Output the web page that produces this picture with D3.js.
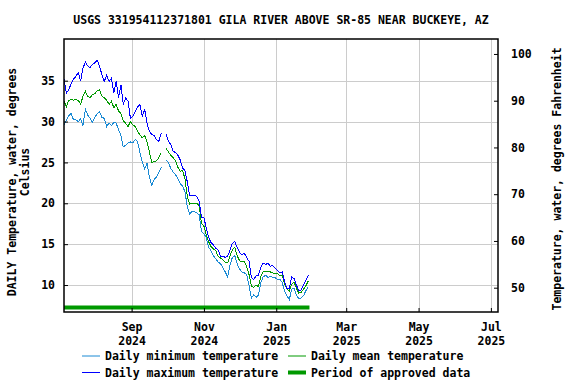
<!DOCTYPE html>
<html lang="en">
<head>
    <meta charset="UTF-8">
    <title>Gila River water temperature</title>
    <script src="https://d3js.org/d3.v7.min.js"></script>
    <style>
    body { margin: 0; background: #fff; }
    text { font-family: "DejaVu Sans Mono", monospace; font-weight: bold; font-size: 11.5px; fill: #000; }
    </style>
</head>
<body>
    <div id="chart"></div>

    <script>
        // daily values, one value every 2 days from startDate
        var startDate = "2024-07-06";
        var stepDays = 2;

        var maxTemp = [35.2, 33.5, 33.9, 34.6, 35.2, 35.5, 36.0, 35.0, 36.5, 37.3,
            36.8, 36.6, 37.0, 37.2, 37.5, 36.8, 35.7, 34.9, 35.7, 34.9,
            35.3, 33.5, 34.9, 32.9, 34.5, 32.1, 32.9, 32.5, 30.4, 30.6,
            31.2, 31.8, 32.1, 30.6, 31.5, 29.8, 28.8, 28.4, 28.3, 27.8,
            27.6, 28.6, null, 28.5, 27.6, 27.2, 26.4, 26.2, 25.9, 25.3,
            24.3, 24.0, 22.6, 20.9, 20.9, 21.0, 20.8, 20.2, 18.3, 18.2,
            17.0, 15.8, 15.2, 14.9, 14.5, 14.3, 13.5, 13.5, 13.4, 13.5,
            14.3, 15.1, 15.3, 14.6, 14.0, 13.7, 13.9, 13.4, 12.9, 10.9,
            10.7, 11.1, 11.2, 12.2, 12.7, 12.5, 12.7, 12.3, 12.4, 12.1,
            11.8, 11.5, 11.6, 10.4, 9.6, 9.6, 11.0, 10.8, 10.0, 9.3,
            9.4, 10.0, 10.6, 11.2];

        var meanTemp = [32.5, 31.8, 32.6, 32.7, 32.6, 32.7, 32.6, 32.1, 33.1, 33.7,
            33.1, 32.9, 33.3, 33.4, 33.8, 33.9, 33.1, 32.9, 32.6, 32.1,
            32.5, 31.7, 32.1, 31.3, 31.0, 30.1, 29.8, 29.4, 30.0, 29.6,
            29.4, 28.8, 28.4, 28.0, 28.3, 27.5, 26.3, 25.0, 25.1, 25.2,
            25.6, 26.2, null, 26.7, 26.3, 25.9, 25.6, 25.2, 24.4, 23.9,
            24.0, 23.0, 20.8, 19.9, 20.0, 20.0, 20.0, 19.7, 17.5, 17.2,
            16.1, 15.3, 14.7, 14.4, 14.2, 13.5, 13.3, 13.1, 12.8, 12.7,
            13.6, 14.3, 14.6, 13.6, 13.0, 12.8, 12.9, 12.3, 11.3, 9.9,
            9.7, 10.0, 9.8, 11.1, 11.6, 11.7, 11.7, 11.6, 11.5, 11.4,
            11.4, 11.1, 11.2, 10.1, 9.5, 9.2, 10.1, 10.4, 9.6, 9.0,
            9.1, 9.5, 9.9, 10.5];

        var minTemp = [29.6, 30.2, 30.7, 31.0, 30.2, 30.2, 30.0, 30.3, 29.5, 31.5,
            30.8, 30.4, 29.9, 30.5, 31.0, 31.2, 30.5, 30.4, 29.4, 29.8,
            29.5, 29.9, 29.8, 29.0, 28.3, 26.9, 27.1, 27.4, 27.5, 27.4,
            27.8, 27.6, 26.2, 25.1, 24.2, 24.9, 23.2, 22.2, 22.9, 23.2,
            23.8, 24.4, null, 25.3, 25.0, 24.3, 23.8, 23.5, 23.0, 22.4,
            22.1, 21.4, 19.6, 18.7, 19.0, 19.0, 18.8, 18.6, 16.5, 16.3,
            15.8, 14.6, 14.2, 13.6, 13.2, 12.8, 12.6, 12.1, 11.6, 11.0,
            12.4, 13.4, 13.6, 12.6, 12.0, 11.6, 11.5, 11.3, 10.0, 8.4,
            8.8, 8.5, 8.8, 10.3, 11.0, 11.2, 10.9, 11.1, 10.9, 10.9,
            10.7, 10.7, 10.3, 9.3, 8.7, 8.2, 9.5, 9.6, 8.8, 8.3,
            8.4, 8.7, 9.3, 9.8];

        var approvedPeriod = ["2024-07-06", "2025-01-29"];

        var xTicks = ["2024-09-01", "2024-11-01", "2025-01-01", "2025-03-01", "2025-05-01", "2025-07-01"];
        var celsiusTicks = [10, 15, 20, 25, 30, 35];
        var fahrenheitTicks = [50, 60, 70, 80, 90, 100];

        var title = "USGS 331954112371801 GILA RIVER ABOVE SR-85 NEAR BUCKEYE, AZ";

        // plot box
        var W = 576, H = 384;
        var box = {left: 64, right: 498, top: 39, bottom: 312};

        var parse = d3.timeParse("%Y-%m-%d");
        var t0 = parse(startDate);
        function rows(values) {
            return values.map(function (v, i) {
                return { date: d3.timeDay.offset(t0, i * stepDays), v: v };
            });
        }

        var svg = d3.select("#chart")
          .append("svg")
            .attr("width", W)
            .attr("height", H);

        var x = d3.scaleTime()
            .domain([parse("2024-07-06"), parse("2025-07-07")])
            .range([box.left, box.right]);

        var y = d3.scaleLinear()
            .domain([6.7, 40.1])
            .range([box.bottom, box.top]);

        var yF = d3.scaleLinear()
            .domain([44.8, 103.2])
            .range([box.bottom, box.top]);

        // grid
        svg.append("g")
          .selectAll("line")
          .data(celsiusTicks)
          .enter().append("line")
            .attr("x1", box.left).attr("x2", box.right)
            .attr("y1", function (d) { return Math.round(y(d)) + 0.5; })
            .attr("y2", function (d) { return Math.round(y(d)) + 0.5; })
            .attr("stroke", "#cccccc");

        svg.append("g")
          .selectAll("line")
          .data(xTicks)
          .enter().append("line")
            .attr("x1", function (d) { return Math.round(x(parse(d))) + 0.5; })
            .attr("x2", function (d) { return Math.round(x(parse(d))) + 0.5; })
            .attr("y1", box.top).attr("y2", box.bottom)
            .attr("stroke", "#cccccc");

        // series
        var line = d3.line()
            .defined(function (d) { return d.v != null; })
            .x(function (d) { return x(d.date); })
            .y(function (d) { return y(d.v); });

        var series = [
            { values: minTemp, color: "#1a8ad4" },
            { values: meanTemp, color: "#009900" },
            { values: maxTemp, color: "#0000ff" }
        ];

        // crisp edges to get the stepped, unsmoothed look of the original
        svg.append("g")
          .selectAll("path")
          .data(series)
          .enter().append("path")
            .attr("d", function (s) { return line(rows(s.values)); })
            .attr("fill", "none")
            .attr("stroke", function (s) { return s.color; })
            .attr("stroke-width", 1)
            .attr("shape-rendering", "crispEdges");

        // approved period bar
        svg.append("line")
            .attr("x1", x(parse(approvedPeriod[0])))
            .attr("x2", x(parse(approvedPeriod[1])))
            .attr("y1", 307.5).attr("y2", 307.5)
            .attr("stroke", "#009900")
            .attr("stroke-width", 4);

        // frame
        svg.append("rect")
            .attr("x", box.left).attr("y", box.top)
            .attr("width", box.right - box.left).attr("height", box.bottom - box.top)
            .attr("fill", "none")
            .attr("stroke", "#000")
            .attr("stroke-width", 1.5);

        // left axis
        var gl = svg.append("g")
            .attr("transform", "translate(" + box.left + ",0)")
            .call(d3.axisLeft(y).tickValues(celsiusTicks).tickSizeInner(-4).tickSizeOuter(0).tickPadding(9));
        gl.select(".domain").remove();

        // right axis
        var gr = svg.append("g")
            .attr("transform", "translate(" + box.right + ",0)")
            .call(d3.axisRight(yF).tickValues(fahrenheitTicks).tickSizeInner(-4).tickSizeOuter(0).tickPadding(13));
        gr.select(".domain").remove();

        // bottom axis, month over year
        var gb = svg.append("g")
            .attr("transform", "translate(0," + box.bottom + ")")
            .call(d3.axisBottom(x).tickValues(xTicks.map(parse)).tickSizeInner(-4).tickSizeOuter(0).tickFormat(""));
        gb.select(".domain").remove();
        gb.selectAll(".tick").each(function (d) {
            var t = d3.select(this).append("text")
                .attr("text-anchor", "middle");
            t.append("tspan").attr("x", 0).attr("y", 18.5).text(d3.timeFormat("%b")(d));
            t.append("tspan").attr("x", 0).attr("y", 32.5).text(d3.timeFormat("%Y")(d));
        });
        svg.selectAll(".tick line").attr("stroke", "#000");
        svg.selectAll(".tick text")
            .attr("font-size", null).attr("font-family", null)
            .attr("fill", "#000");

        // title
        svg.append("text")
            .attr("x", (box.left + box.right) / 2)
            .attr("y", 24)
            .attr("text-anchor", "middle")
            .text(title);

        // axis titles
        svg.append("text")
            .attr("transform", "translate(12,182) rotate(-90)")
            .attr("text-anchor", "middle")
            .attr("dy", "0.35em")
            .text("DAILY Temperature, water, degrees");
        svg.append("text")
            .attr("transform", "translate(24.5,172) rotate(-90)")
            .attr("text-anchor", "middle")
            .attr("dy", "0.35em")
            .text("Celsius");
        svg.append("text")
            .attr("transform", "translate(557,179) rotate(-90)")
            .attr("text-anchor", "middle")
            .attr("dy", "0.35em")
            .text("Temperature, water, degrees Fahrenheit");

        // legend
        var legend = [
            { label: "Daily minimum temperature", color: "#1a8ad4", w: 1, lx: 82, ly: 356 },
            { label: "Daily mean temperature", color: "#009900", w: 1, lx: 288, ly: 356 },
            { label: "Daily maximum temperature", color: "#0000ff", w: 1, lx: 82, ly: 372.5 },
            { label: "Period of approved data", color: "#009900", w: 4, lx: 288, ly: 372.5 }
        ];
        var lg = svg.append("g")
          .selectAll("g")
          .data(legend)
          .enter().append("g");
        lg.append("line")
            .attr("x1", function (d) { return d.lx; })
            .attr("x2", function (d) { return d.lx + 18; })
            .attr("y1", function (d) { return d.ly; })
            .attr("y2", function (d) { return d.ly; })
            .attr("stroke", function (d) { return d.color; })
            .attr("stroke-width", function (d) { return d.w; });
        lg.append("text")
            .attr("x", function (d) { return d.lx + 23; })
            .attr("y", function (d) { return d.ly + 4; })
            .text(function (d) { return d.label; });
    </script>
</body>
</html>
